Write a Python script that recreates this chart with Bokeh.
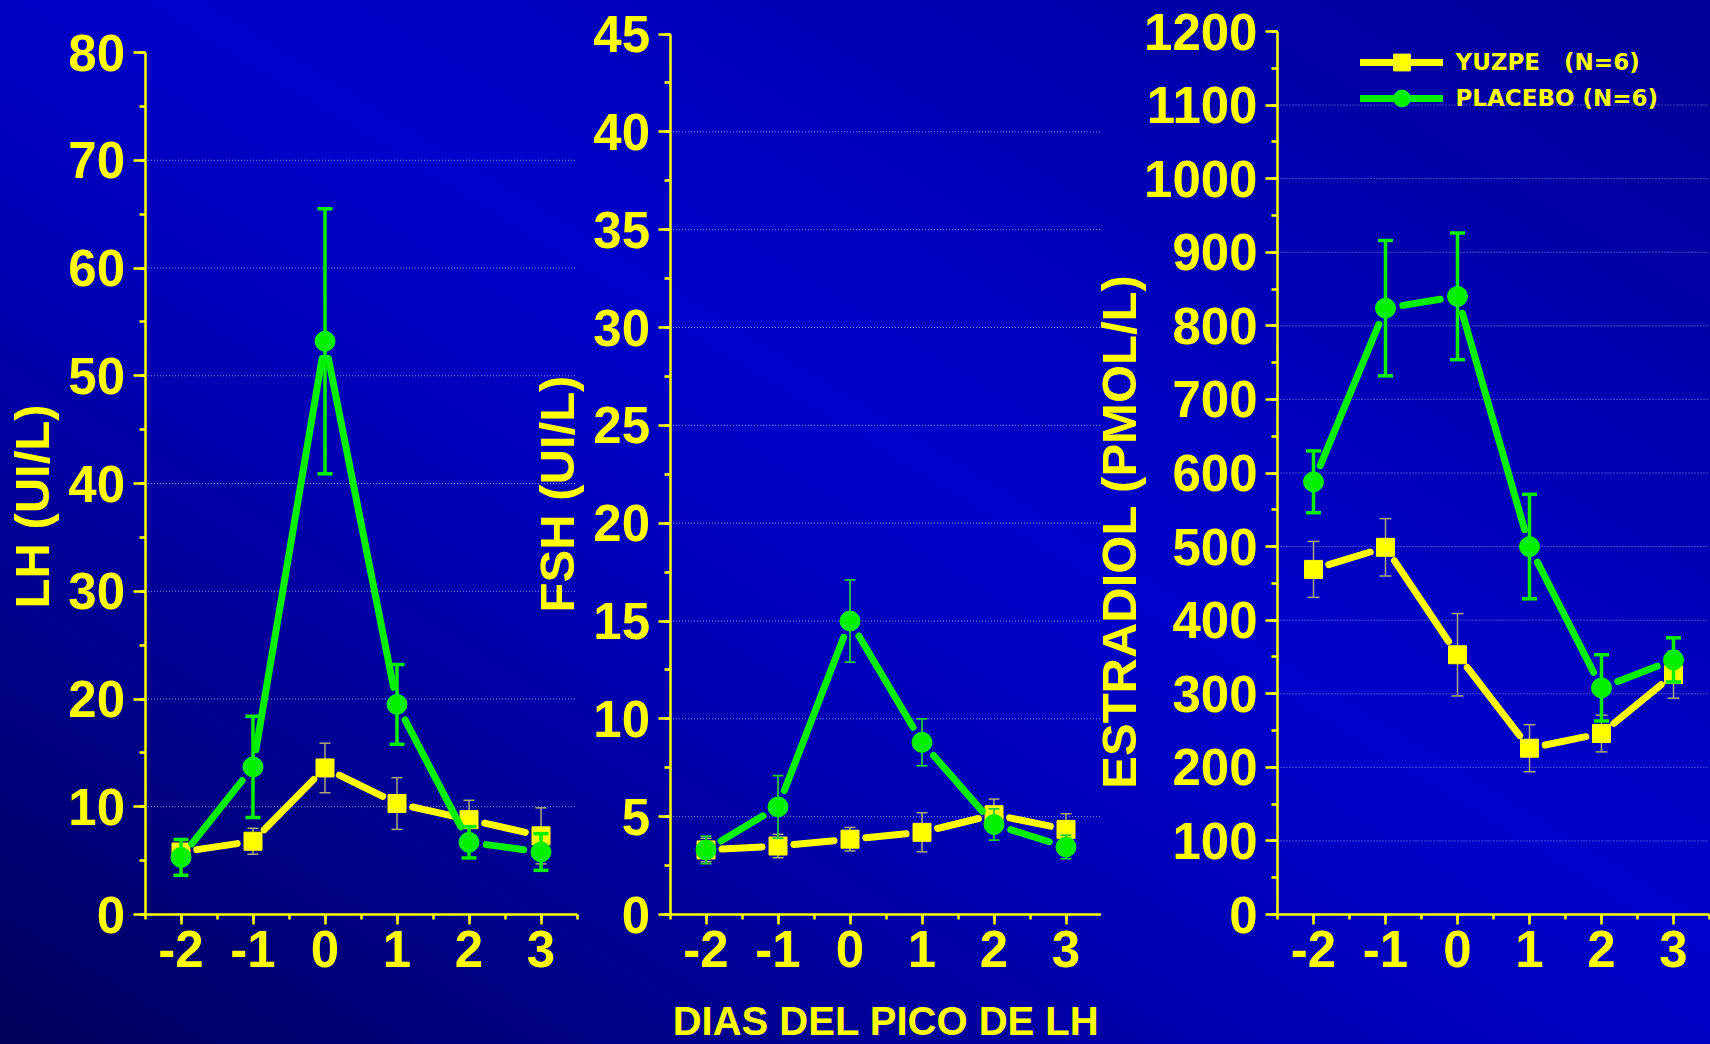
import math
from bokeh.plotting import figure
from bokeh.layouts import row
from bokeh.models import (Range1d, SingleIntervalTicker, Label, Legend, LegendItem,
                          GlobalInlineStyleSheet)
from bokeh.core.properties import value
from bokeh.embed import file_html
from bokeh.resources import INLINE

# ---------------- data ----------------
days = [-2, -1, 0, 1, 2, 3]
x_tick_labels = ["-2", "-1", "0", "1", "2", "3"]

lh_yuzpe = [5.8, 6.8, 13.6, 10.3, 8.8, 7.3]
lh_yuzpe_err = [0.5, 1.2, 2.3, 2.4, 1.8, 2.6]
lh_placebo = [5.3, 13.7, 53.2, 19.5, 6.7, 5.8]
lh_placebo_err = [1.65, 4.7, 12.3, 3.7, 1.45, 1.7]

fsh_yuzpe = [3.3, 3.5, 3.85, 4.2, 5.1, 4.35]
fsh_yuzpe_err = [0.6, 0.6, 0.6, 1.0, 0.8, 0.8]
fsh_placebo = [3.3, 5.5, 15.0, 8.8, 4.6, 3.45]
fsh_placebo_err = [0.7, 1.6, 2.1, 1.2, 0.8, 0.6]

e2_yuzpe = [469, 499, 353, 226, 246, 326]
e2_yuzpe_err = [38, 39, 56, 32, 25, 32]
e2_placebo = [588, 824, 840, 500, 308, 346]
e2_placebo_err = [42, 92, 86, 71, 45, 30]

lh_grid = [10, 20, 30, 40, 50, 60, 70]
fsh_grid = [5, 10, 15, 20, 25, 30, 35, 40]
e2_grid = [100, 200, 300, 400, 500, 600, 700, 800, 900, 1000, 1100]

# ---------------- style / layout ----------------
YELLOW = "#ffff00"
GREEN = "#00f000"
YERR = "#aca87e"
FONT = "Liberation Sans"
H = 1044          # canvas height
ZERO_Y = 914      # pixel row of value 0 (x axis)
PX_X = 72.0       # px per day
X0, X1 = -2.5, 3.5


def make_panel(page_left, width, axis_x, y_max, y_max_px, y_interval, grid_ticks,
               overlap=0):
    py = (ZERO_Y - y_max_px) / y_max
    xs = X0 - (axis_x - page_left) / PX_X
    ys = -(H - ZERO_Y) / py
    p = figure(width=width, height=H,
               x_range=Range1d(xs, xs + width / PX_X),
               y_range=Range1d(ys, ys + H / py),
               min_border=0, toolbar_location=None, output_backend="svg", title=None,
               margin=(0, 0, 0, -overlap))
    p.background_fill_alpha = 0
    p.border_fill_alpha = 0
    p.outline_line_color = None
    p.grid.visible = False
    p.xaxis.fixed_location = 0
    p.yaxis.fixed_location = X0
    p.xaxis.bounds = (X0, X1)
    p.yaxis.bounds = (0, y_max)
    p.xaxis.ticker = SingleIntervalTicker(interval=1, num_minor_ticks=2)
    p.xaxis.major_label_overrides = {d: t for d, t in zip(days, x_tick_labels)}
    p.yaxis.ticker = SingleIntervalTicker(interval=y_interval, num_minor_ticks=2)
    for ax in (p.xaxis[0], p.yaxis[0]):
        ax.axis_line_color = YELLOW
        ax.axis_line_width = 2.5
        ax.major_tick_line_color = YELLOW
        ax.major_tick_line_width = 2.5
        ax.minor_tick_line_color = YELLOW
        ax.minor_tick_line_width = 2.5
        ax.major_tick_in = 0
        ax.minor_tick_in = 0
        ax.major_label_text_color = YELLOW
        ax.major_label_text_font = FONT
        ax.major_label_text_font_style = "bold"
        ax.major_label_text_font_size = "51px"
    p.xaxis.major_tick_out = 10
    p.xaxis.minor_tick_out = 5
    p.xaxis.major_label_standoff = 6
    p.yaxis.major_tick_out = 12
    p.yaxis.minor_tick_out = 6
    p.yaxis.major_label_standoff = 8
    # dotted horizontal grid lines, from the y axis to the right end of the x axis
    p.segment([X0] * len(grid_ticks), grid_ticks, [X1] * len(grid_ticks), grid_ticks,
              line_color="#b8bcff", line_alpha=0.75, line_width=1, line_dash="1 2")
    p._py = py
    p._geo = (page_left, axis_x)
    return p


def to_data(p, px, py_):
    page_left, axis_x = p._geo
    return X0 + (px - axis_x) / PX_X, (ZERO_Y - py_) / p._py


def gapped(xs, ys, py, gap):
    x0s, y0s, x1s, y1s = [], [], [], []
    for i in range(len(xs) - 1):
        ddx = xs[i + 1] - xs[i]
        ddy = ys[i + 1] - ys[i]
        L = math.hypot(ddx * PX_X, ddy * py)
        t = gap / L
        x0s.append(xs[i] + ddx * t)
        y0s.append(ys[i] + ddy * t)
        x1s.append(xs[i + 1] - ddx * t)
        y1s.append(ys[i + 1] - ddy * t)
    return x0s, y0s, x1s, y1s


def series(p, ys, errs, color, marker, size, err_color, err_width, cap, gap):
    lo = [y - e for y, e in zip(ys, errs)]
    hi = [y + e for y, e in zip(ys, errs)]
    p.segment(days, lo, days, hi, line_color=err_color, line_width=err_width)
    p.scatter(days + days, hi + lo, marker="dash", size=cap,
              line_color=err_color, line_width=err_width)
    x0, y0, x1, y1 = gapped(days, ys, p._py, gap)
    ln = p.segment(x0, y0, x1, y1, line_color=color, line_width=7, line_cap="round")
    mk = p.scatter(days, ys, marker=marker, size=size, fill_color=color,
                   line_color=color)
    return ln, mk


def title(p, text, px, py_, size, angle):
    x, y = to_data(p, px, py_)
    p.add_layout(Label(x=x, y=y, text=text, angle=angle, text_align="center",
                       text_baseline="middle", text_color=YELLOW, text_font=FONT,
                       text_font_style="bold", text_font_size=size))


OVERLAP = 20
p1 = make_panel(0, 586, 144.5, 80, 52, 10, lh_grid)
p2 = make_panel(586, 515, 669.5, 45, 33.5, 5, fsh_grid)
p3 = make_panel(1101 - OVERLAP, 609 + OVERLAP, 1277, 1200, 31, 100, e2_grid,
                overlap=OVERLAP)

series(p1, lh_yuzpe, lh_yuzpe_err, YELLOW, "square", 18, YERR, 1.5, 11, 16)
series(p1, lh_placebo, lh_placebo_err, GREEN, "circle", 20, GREEN, 3.5, 15, 17.5)
series(p2, fsh_yuzpe, fsh_yuzpe_err, YELLOW, "square", 18, YERR, 1.5, 11, 16)
series(p2, fsh_placebo, fsh_placebo_err, GREEN, "circle", 20, "#22c83a", 1.8, 11, 17.5)
yl, ym = series(p3, e2_yuzpe, e2_yuzpe_err, YELLOW, "square", 18, YERR, 1.5, 12, 16)
gl, gm = series(p3, e2_placebo, e2_placebo_err, GREEN, "circle", 20, GREEN, 3.5, 15, 17.5)

# axis titles (anchor pixel positions on the page)
title(p1, "LH (UI/L)", 31, 506, "49px", math.pi / 2)
title(p1, "FSH (UI/L)", 556, 493.5, "49px", math.pi / 2)
title(p3, "ESTRADIOL (PMOL/L)", 1118, 531, "49px", math.pi / 2)
title(p2, "DIAS DEL PICO DE LH", 885.5, 1020.5, "40px", 0)

legend_kw = dict(orientation="vertical", glyph_width=83, glyph_height=42, padding=0,
                 margin=0, label_standoff=13, background_fill_alpha=0,
                 border_line_alpha=0, label_text_color=YELLOW,
                 label_text_font="DejaVu Sans", label_text_font_style="bold",
                 label_text_font_size="23px")
leg_x = 1359.5 - (1101 - OVERLAP)
p3.add_layout(Legend(items=[LegendItem(label=value("YUZPE   (N=6)"), renderers=[yl, ym])],
                     location=(leg_x, H - 83), **legend_kw))
p3.add_layout(Legend(items=[LegendItem(label=value("PLACEBO (N=6)"), renderers=[gl, gm])],
                     location=(leg_x, H - 119), **legend_kw))

bg = GlobalInlineStyleSheet(css=(
    "html{min-height:100%;background:linear-gradient(to top right,"
    "#00005a 0%,#0000b4 38%,#0000cc 55%,#000096 100%) fixed;}"))

layout = row(p1, p2, p3, stylesheets=[bg])

open("out.html", "w").write(file_html(layout, INLINE))
